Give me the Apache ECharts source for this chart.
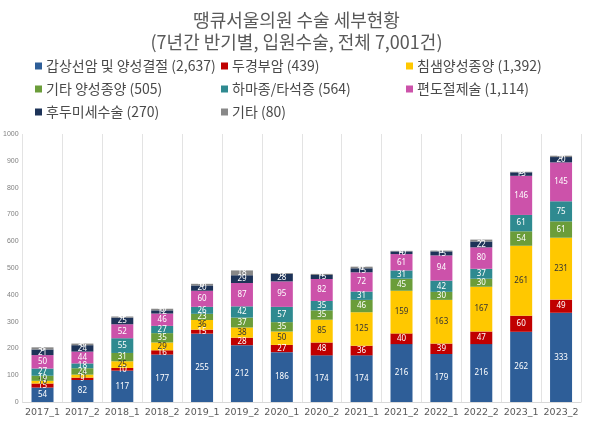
<!DOCTYPE html>
<html><head><meta charset="utf-8">
<script src="https://cdn.jsdelivr.net/npm/echarts@6/dist/echarts.min.js"></script>
<style>html,body{margin:0;padding:0;background:#fff}#c{width:593px;height:424px}</style>
</head><body><div id="c"></div>
<script>
const categories = ['2017_1','2017_2','2018_1','2018_2','2019_1','2019_2','2020_1','2020_2','2021_1','2021_2','2022_1','2022_2','2023_1','2023_2'];
const seriesNames = ['갑상선암 및 양성결절','두경부암','침샘양성종양','기타 양성종양','하마종/타석증','편도절제술','후두미세수술','기타'];
const seriesTotals = ['2,637','439','1,392','505','564','1,114','270','80'];
const thyroid   = [54, 82, 117, 177, 255, 212, 186, 174, 174, 216, 179, 216, 262, 333];
const headNeck  = [15, 9, 10, 16, 15, 28, 27, 48, 36, 40, 39, 47, 60, 49];
const salivary  = [10, 11, 25, 29, 36, 38, 50, 85, 125, 159, 163, 167, 261, 231];
const benign    = [19, 24, 31, 35, 23, 37, 35, 35, 46, 45, 30, 30, 54, 61];
const ranula    = [27, 18, 55, 27, 26, 42, 57, 35, 31, 31, 42, 37, 61, 75];
const tonsil    = [50, 44, 52, 46, 60, 87, 95, 82, 72, 61, 94, 80, 146, 145];
const larynx    = [21, 24, 25, 12, 20, 29, 28, 15, 15, 10, 15, 22, 13, 20];
const other     = [8, 6, 4, 6, 6, 18, 3, 4, 6, 2, 3, 7, 2, 5];
const yTicks = {min: 0, max: 1000, interval: 100};

const values = [thyroid, headNeck, salivary, benign, ranula, tonsil, larynx, other];
const colors = ['#2e5e98','#c00000','#ffc800','#6b9d3a','#2f8a90','#cc52aa','#1d3358','#888888'];
const labelColors = ['#fff','#fff','#333','#fff','#fff','#fff','#fff','#fff'];
const fullNames = seriesNames.map((n,i)=> n + ' (' + seriesTotals[i] + ')');

const series = values.map((d,i)=>({
  name: fullNames[i], type:'bar', stack:'total', data:d, barWidth:22,
  itemStyle:{color:colors[i]},
  label:{show:true, position:'inside', color:labelColors[i], fontSize:8, fontFamily:'Noto Sans'},
  emphasis:{disabled:true}
}));

const legendCols = [[0,3,6],[1,4,7],[2,5]];
const legendLeft = [30, 216, 401];
const legends = legendCols.map((col,k)=>({
  data: col.map(i=>fullNames[i]), orient:'vertical', left:legendLeft[k], top:54,
  itemWidth:7, itemHeight:7, itemGap:9, icon:'rect',
  textStyle:{fontSize:14, color:'#4a4a4a', fontFamily:'Noto Sans CJK KR', padding:[0,0,0,-1]},
  selectedMode:false
}));

const chart = echarts.init(document.getElementById('c'));
chart.setOption({
  animation:false,
  title:{text:'땡큐서울의원 수술 세부현황\n(7년간 반기별, 입원수술, 전체 7,001건)', left:'center', top:4,
    textStyle:{fontSize:18, fontWeight:'normal', color:'#595959', lineHeight:22, fontFamily:'Noto Sans CJK KR'}},
  legend: legends,
  grid:{left:21, right:12, top:134, bottom:22},
  xAxis:{type:'category', data:categories,
    axisLine:{lineStyle:{color:'#d9d9d9'}}, axisTick:{show:false},
    axisLabel:{color:'#595959', fontSize:9.5, margin:6, interval:0, fontFamily:'DejaVu Sans'},
    splitLine:{show:true, interval:0, lineStyle:{color:'#e3e3e3'}}},
  yAxis:{type:'value', min:yTicks.min, max:yTicks.max, interval:yTicks.interval,
    axisLine:{show:false}, axisTick:{show:false}, splitLine:{show:false},
    axisLabel:{color:'#808080', fontSize:7, margin:4, formatter:v=>String(v)}},
  series: series
});
</script></body></html>
